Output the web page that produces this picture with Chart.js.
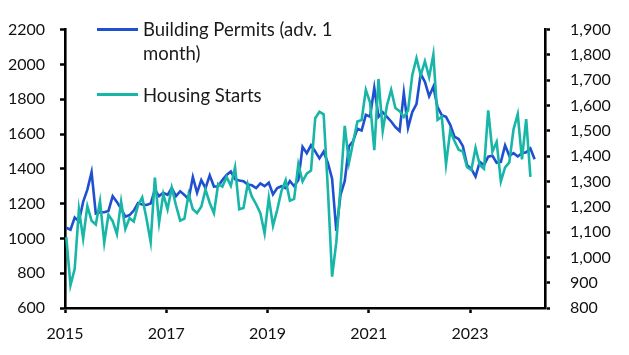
<!DOCTYPE html>
<html>
<head>
<meta charset="utf-8">
<script src="https://cdn.jsdelivr.net/npm/chart.js@4.4.0/dist/chart.umd.min.js"></script>
<style>
  html, body { margin: 0; padding: 0; background: #fff; }
  #wrap { position: relative; width: 629px; height: 355px; overflow: hidden; }
  #c { position: absolute; left: 0; top: 0; }
  .lg-line { position: absolute; height: 3px; width: 41px; }
  .lg-text { position: absolute; font-family: Lato, sans-serif; font-size: 18.5px; line-height: 24px; color: #1a1a1a; white-space: pre; }
</style>
</head>
<body>
<div id="wrap">
  <canvas id="c" width="629" height="355"></canvas>
</div>
<script>
// ---- data (thousands, SAAR), monthly from Jan 2015 ----
const startYear = 2015;
const startMonth = 1;

// Building permits, advanced one month (left axis)
const permits = [
  1061, 1050, 1120, 1098, 1210, 1280, 1380, 1143, 1150, 1150, 1158, 1243,
  1210, 1170, 1125, 1134, 1160, 1203, 1195, 1192, 1200, 1280, 1243, 1262,
  1250, 1289, 1243, 1271, 1250, 1225, 1353, 1262, 1335, 1289, 1362, 1298,
  1300, 1335, 1365, 1385, 1340, 1333, 1328, 1310, 1305, 1289, 1316, 1300,
  1320, 1253, 1289, 1300, 1289, 1330, 1300, 1335, 1526, 1490, 1535, 1500,
  1460, 1498, 1434, 1343, 1043, 1250, 1330, 1530, 1560, 1630, 1620, 1710,
  1700, 1866, 1699, 1726, 1699, 1672, 1640, 1617, 1836, 1635, 1726, 1772,
  1945, 1900, 1817, 1872, 1754, 1708, 1699, 1653, 1585, 1571, 1530, 1420,
  1400, 1355, 1440, 1420, 1470, 1475, 1435, 1440, 1535, 1475, 1490, 1471,
  1489, 1495, 1517, 1455
];

// Housing starts (right axis)
const starts = [
  1080, 890, 955, 1190, 1075, 1203, 1145, 1130, 1222, 1058, 1168, 1143,
  1092, 1220, 1112, 1155, 1142, 1205, 1237, 1155, 1061, 1315, 1137, 1250,
  1190, 1275, 1206, 1145, 1153, 1250, 1190, 1175, 1200, 1268, 1215, 1175,
  1290, 1280, 1318, 1283, 1356, 1190, 1195, 1290, 1240, 1210, 1175, 1095,
  1235, 1125, 1188, 1262, 1305, 1224, 1231, 1368, 1300, 1331, 1343, 1550,
  1575, 1565, 1270, 924, 1060, 1280, 1520, 1374, 1456, 1537, 1543, 1662,
  1612, 1424, 1705, 1500, 1600, 1662, 1590, 1578, 1555, 1580, 1720, 1787,
  1719, 1775, 1712, 1802, 1544, 1556, 1368, 1500, 1460, 1425, 1418, 1356,
  1345, 1433, 1365, 1350, 1581, 1418, 1456, 1300, 1356, 1375, 1506, 1566,
  1387, 1546, 1318
];

const xTicks = [2015, 2017, 2019, 2021, 2023];
const leftTicks = [600, 800, 1000, 1200, 1400, 1600, 1800, 2000, 2200];
const rightTicks = [800, 900, 1000, 1100, 1200, 1300, 1400, 1500, 1600, 1700, 1800, 1900];
const seriesNames = ['Building Permits (adv. 1\nmonth)', 'Housing Starts'];
const seriesColors = ['#2050D0', '#17B6A7'];

// month labels "YYYY-MM"
const months = permits.map((_, i) => {
  const m = startMonth - 1 + i;
  return (startYear + Math.floor(m / 12)) + '-' + String(m % 12 + 1).padStart(2, '0');
});
// observations dated ~10th of the month
function monthToX(label) {
  const p = label.split('-').map(Number);
  return p[0] + (p[1] - 1 + 0.3) / 12;
}
const toPoints = arr => arr.map((v, i) => ({ x: monthToX(months[i]), y: v }));

// ---- legend (HTML text) ----
const wrap = document.getElementById('wrap');
const legendRows = [{ lineTop: 28, textTop: 17 }, { lineTop: 93, textTop: 83 }];
seriesNames.forEach((name, k) => {
  const ln = document.createElement('div');
  ln.className = 'lg-line';
  ln.style.left = '97px';
  ln.style.top = legendRows[k].lineTop + 'px';
  ln.style.background = seriesColors[k];
  wrap.appendChild(ln);
  const tx = document.createElement('div');
  tx.className = 'lg-text';
  tx.style.left = '143px';
  tx.style.top = legendRows[k].textTop + 'px';
  tx.textContent = name;
  wrap.appendChild(tx);
});

const tickFont = { family: 'Lato', size: 16 };
const gridOpts = { display: true, drawOnChartArea: false, drawTicks: true, tickLength: 5, tickWidth: 2.5, tickColor: '#000', color: '#000' };
const borderOpts = { display: true, color: '#000', width: 2.6 };

new Chart(document.getElementById('c'), {
  type: 'line',
  data: {
    datasets: [
      { label: seriesNames[0], data: toPoints(permits), yAxisID: 'yL', borderColor: seriesColors[0], borderWidth: 2.6, pointRadius: 0, tension: 0, fill: false, order: 1 },
      { label: seriesNames[1], data: toPoints(starts), yAxisID: 'yR', borderColor: seriesColors[1], borderWidth: 2.6, pointRadius: 0, tension: 0, fill: false, order: 0 }
    ]
  },
  options: {
    responsive: false,
    animation: false,
    devicePixelRatio: 1,
    layout: { padding: { top: 15, left: 0, right: 0, bottom: 0 } },
    plugins: { legend: { display: false }, tooltip: { enabled: false } },
    scales: {
      x: {
        type: 'linear', min: 2015, max: 2024.48,
        afterBuildTicks: s => { s.ticks = xTicks.map(v => ({ value: v })); },
        afterFit: s => { s.height = 47; },
        grid: gridOpts, border: borderOpts,
        ticks: { color: '#111', font: tickFont, padding: 11, maxRotation: 0, autoSkip: false, callback: v => String(v) }
      },
      yL: {
        type: 'linear', position: 'left', min: 600, max: 2200,
        afterBuildTicks: s => { s.ticks = leftTicks.map(v => ({ value: v })); },
        afterFit: s => { s.width = 65; },
        grid: gridOpts, border: borderOpts,
        ticks: { color: '#111', font: tickFont, padding: 15, callback: v => String(v) }
      },
      yR: {
        type: 'linear', position: 'right', min: 800, max: 1900,
        afterBuildTicks: s => { s.ticks = rightTicks.map(v => ({ value: v })); },
        afterFit: s => { s.width = 84; },
        grid: gridOpts, border: borderOpts,
        ticks: { color: '#111', font: tickFont, padding: 20, callback: v => v.toLocaleString('en-US') }
      }
    }
  }
});
</script>
</body>
</html>
